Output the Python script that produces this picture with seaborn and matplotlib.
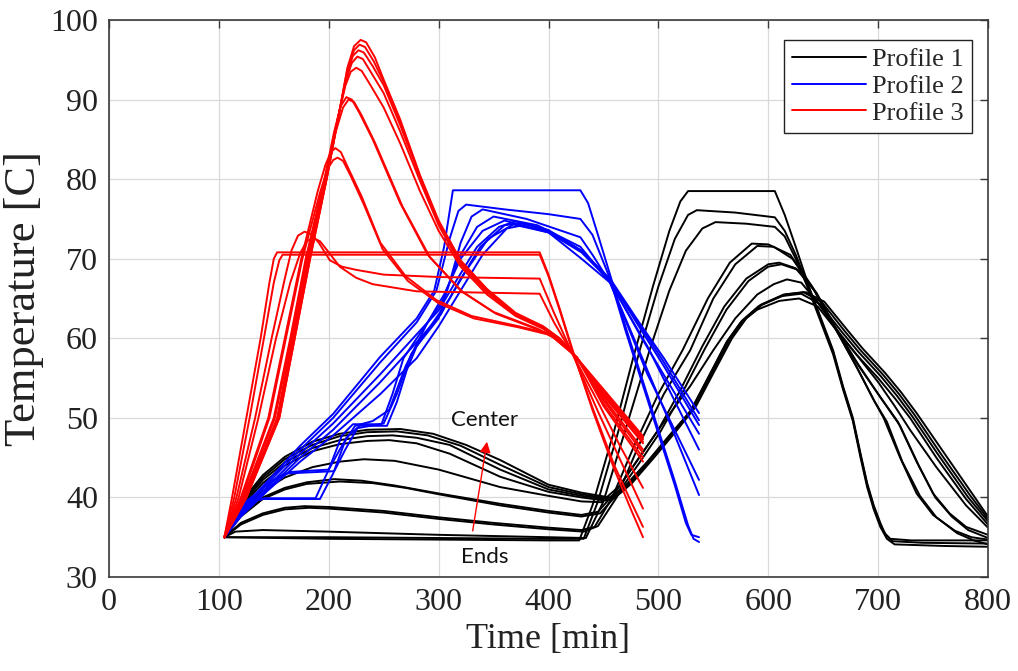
import pandas as pd
import matplotlib
matplotlib.use("Agg")
import matplotlib.pyplot as plt
import seaborn as sns

# ---- Profile 1 (black): 12 curves, ends -> center  [time min, temp C] ----
p1_c0 = [(105, 35.0), (200, 34.8), (300, 34.7), (400, 34.6), (428, 34.6), (440, 39.0), (460, 48.5), (477, 57.5),
         (495, 66.5), (510, 73.5), (520, 77.2), (527, 78.5), (606, 78.5), (615, 75.5), (625, 71.5), (637, 66.5),
         (648, 62.5), (659, 58.5), (668, 54.0), (677, 50.0), (684, 45.5), (690, 41.8), (696, 39.0), (702, 36.8),
         (706, 35.5), (711, 34.8), (730, 34.6), (800, 34.6)]
p1_c1 = [(105, 35.0), (200, 35.0), (300, 34.9), (400, 34.8), (432, 34.8), (445, 39.5), (465, 49.0), (483, 58.5),
         (500, 66.5), (515, 72.5), (527, 75.5), (535, 76.1), (570, 75.8), (606, 75.2), (615, 73.5), (625, 70.5),
         (637, 66.3), (648, 62.3), (659, 58.3), (668, 53.8), (677, 49.8), (684, 45.3), (690, 41.6), (696, 38.8),
         (702, 36.6), (707, 35.3), (713, 34.5), (740, 34.3), (800, 34.2)]
p1_c2 = [(105, 35.0), (115, 35.7), (140, 35.9), (200, 35.7), (300, 35.3), (400, 35.0), (434, 34.9), (450, 39.5),
         (470, 48.5), (492, 58.5), (510, 66.0), (525, 71.0), (540, 73.8), (552, 74.6), (580, 74.4), (606, 74.0),
         (615, 72.8), (625, 70.0), (637, 66.0), (648, 62.0), (659, 58.0), (668, 53.6), (677, 49.6), (684, 45.0),
         (690, 41.3), (696, 38.5), (702, 36.3), (708, 34.8), (715, 34.1), (760, 33.9), (800, 33.8)]
p1_c3 = [(105, 35.0), (120, 36.8), (140, 38.0), (160, 38.7), (178, 38.9), (200, 38.8), (250, 38.3), (300, 37.5),
         (350, 36.8), (400, 36.2), (430, 35.9), (442, 36.3), (458, 40.0), (478, 46.5), (500, 53.0), (522, 58.5),
         (545, 65.0), (565, 69.5), (585, 71.9), (600, 71.8), (620, 70.5), (640, 66.5), (660, 61.5), (680, 56.5),
         (695, 52.5), (705, 50.0), (720, 45.0), (735, 40.5), (750, 37.8), (770, 35.8), (785, 35.0), (800, 34.7)]
p1_c4 = [(105, 35.0), (120, 36.6), (140, 37.8), (160, 38.5), (182, 38.7), (200, 38.6), (250, 38.1), (300, 37.3),
         (350, 36.6), (400, 36.0), (432, 35.7), (445, 36.4), (462, 40.0), (482, 46.5), (505, 53.0), (529, 58.5),
         (550, 65.0), (570, 69.3), (590, 71.6), (605, 71.5), (622, 70.0), (642, 66.0), (662, 61.0), (682, 56.0),
         (697, 52.0), (708, 49.5), (722, 44.5), (738, 40.2), (753, 37.5), (772, 35.5), (787, 34.6), (800, 34.1)]
p1_c5 = [(105, 35.0), (120, 37.8), (140, 40.0), (160, 41.2), (180, 41.9), (205, 42.3), (230, 42.1), (260, 41.5),
         (300, 40.5), (356, 39.2), (400, 38.3), (430, 37.8), (445, 38.2), (460, 40.5), (480, 44.5), (500, 48.5),
         (520, 53.5), (540, 59.0), (560, 64.0), (580, 67.5), (600, 69.3), (610, 69.5), (625, 68.8), (642, 66.0),
         (660, 61.5), (680, 57.0), (700, 53.0), (718, 49.5), (735, 44.5), (750, 40.5), (765, 38.0), (780, 36.3),
         (800, 35.3)]
p1_c6 = [(105, 35.0), (120, 37.6), (140, 39.8), (160, 41.0), (180, 41.7), (210, 42.0), (240, 41.8), (270, 41.2),
         (300, 40.4), (356, 39.0), (400, 38.1), (430, 37.6), (447, 38.0), (462, 40.3), (482, 44.2), (502, 48.3),
         (522, 53.2), (542, 58.6), (562, 63.6), (582, 67.2), (600, 69.0), (612, 69.3), (627, 68.6), (644, 65.7),
         (662, 61.2), (682, 56.7), (702, 52.6), (720, 49.0), (737, 44.0), (752, 40.0), (767, 37.6), (782, 35.9),
         (800, 34.9)]
p1_c7 = [(105, 35.0), (120, 38.3), (140, 40.8), (160, 42.5), (185, 43.8), (210, 44.5), (232, 44.8), (260, 44.6),
         (300, 43.5), (356, 41.3), (400, 40.2), (430, 39.5), (448, 39.4), (465, 41.5), (485, 45.5), (505, 49.5),
         (529, 54.0), (550, 58.5), (570, 62.5), (590, 65.5), (605, 66.8), (617, 67.4), (630, 67.0), (645, 64.5),
         (660, 61.5), (680, 58.0), (700, 54.5), (715, 51.5), (729, 48.5), (753, 43.8), (780, 39.0), (800, 36.2)]
p1_c8 = [(105, 35.0), (120, 38.8), (140, 41.8), (160, 44.0), (185, 45.8), (210, 46.7), (235, 47.1), (255, 47.2),
         (280, 46.8), (310, 45.5), (356, 42.6), (400, 40.7), (430, 40.0), (452, 39.6), (470, 41.5), (490, 44.5),
         (510, 47.8), (529, 50.8), (545, 55.0), (562, 59.5), (575, 62.0), (590, 63.6), (610, 64.7), (628, 65.0),
         (645, 64.0), (665, 60.5), (680, 58.0), (700, 55.0), (715, 52.5), (729, 50.0), (753, 45.0), (780, 39.8),
         (800, 36.6)]
p1_c9 = [(105, 35.0), (120, 39.0), (140, 42.2), (160, 44.4), (185, 46.2), (210, 47.2), (235, 47.7), (258, 47.8),
         (280, 47.5), (310, 46.6), (356, 43.5), (400, 41.0), (430, 40.2), (455, 39.7), (472, 41.6), (492, 44.7),
         (512, 48.0), (530, 51.0), (546, 55.2), (563, 59.7), (576, 62.2), (591, 64.0), (612, 65.3), (630, 65.6),
         (647, 64.3), (667, 60.8), (682, 58.3), (702, 55.3), (717, 52.8), (731, 50.2), (755, 45.3), (782, 40.0),
         (800, 37.0)]
p1_c10 = [(105, 35.0), (120, 39.2), (140, 42.5), (160, 44.8), (185, 46.6), (210, 47.7), (235, 48.2), (262, 48.3),
          (290, 47.8), (320, 46.5), (356, 44.1), (400, 41.3), (430, 40.4), (457, 39.8), (474, 41.7), (494, 44.9),
          (514, 48.2), (532, 51.2), (548, 55.4), (565, 59.9), (578, 62.4), (593, 64.2), (614, 65.5), (632, 65.8),
          (649, 64.5), (669, 61.0), (684, 58.5), (704, 55.5), (719, 53.0), (733, 50.4), (757, 45.5), (784, 40.2),
          (800, 37.3)]
p1_c11 = [(105, 35.0), (120, 39.4), (140, 42.8), (160, 45.1), (185, 47.0), (210, 48.0), (235, 48.5), (265, 48.6),
          (295, 48.0), (325, 46.6), (356, 44.7), (400, 41.6), (430, 40.6), (460, 39.9), (476, 41.8), (496, 45.0),
          (516, 48.3), (534, 51.4), (550, 55.6), (567, 60.0), (580, 62.5), (595, 64.3), (616, 65.5), (634, 65.8),
          (651, 64.6), (671, 61.2), (686, 58.7), (706, 55.7), (721, 53.2), (735, 50.6), (759, 45.8), (786, 40.4),
          (800, 37.6)]

# ---- Profile 2 (blue) ----
p2_c0 = [(105, 35.0), (120, 38.5), (144, 42.0), (174, 46.5), (204, 50.5), (247, 57.7), (280, 62.5), (296, 66.0),
         (305, 71.5), (313, 78.6), (429, 78.6), (436, 77.0), (445, 73.0), (456, 68.0), (470, 61.5), (485, 55.0),
         (500, 48.5), (515, 42.0), (527, 36.5), (532, 34.8), (537, 34.4)]
p2_c1 = [(105, 35.0), (120, 38.3), (144, 41.7), (174, 46.0), (204, 50.0), (247, 57.0), (280, 62.0), (298, 66.0),
         (310, 72.5), (318, 76.0), (325, 76.8), (360, 76.2), (400, 75.6), (429, 75.0), (440, 73.0), (456, 67.5),
         (470, 61.0), (485, 54.5), (500, 48.0), (515, 41.5), (525, 36.8), (530, 35.3), (537, 35.0)]
p2_c2 = [(105, 35.0), (115, 38.0), (130, 39.5), (140, 39.8), (192, 39.8), (204, 43.0), (216, 47.5), (228, 49.0),
         (253, 49.0), (262, 52.0), (271, 56.0), (280, 59.0), (300, 62.5), (310, 67.0), (320, 72.0), (330, 75.3),
         (340, 76.2), (380, 75.0), (429, 72.7), (440, 70.5), (456, 67.0), (470, 62.5), (490, 56.0), (510, 49.5),
         (537, 40.3)]
p2_c3 = [(105, 35.0), (116, 38.0), (132, 39.6), (142, 39.9), (188, 39.9), (200, 43.5), (212, 47.8), (222, 49.2),
         (248, 49.2), (258, 53.0), (268, 57.5), (285, 61.0), (303, 64.5), (318, 70.0), (335, 74.0), (350, 75.3),
         (390, 74.2), (429, 71.5), (456, 67.0), (490, 55.5), (537, 42.2)]
p2_c4 = [(105, 35.0), (125, 39.5), (150, 42.2), (165, 43.2), (200, 43.5), (212, 46.5), (224, 49.0), (240, 49.6),
         (255, 51.0), (270, 56.5), (290, 62.0), (305, 65.5), (320, 70.0), (340, 73.5), (360, 74.8), (400, 73.3),
         (430, 70.0), (456, 67.0), (490, 59.0), (537, 46.0)]
p2_c5 = [(105, 35.0), (120, 38.0), (144, 41.3), (174, 45.5), (204, 49.3), (247, 55.5), (280, 60.5), (300, 63.5),
         (315, 67.0), (335, 71.5), (355, 74.0), (370, 74.7), (400, 73.6), (430, 71.0), (456, 67.3), (480, 62.0),
         (505, 56.5), (537, 49.1)]
p2_c6 = [(105, 35.0), (120, 37.8), (144, 41.0), (174, 45.0), (204, 48.5), (247, 54.5), (280, 59.5), (302, 63.0),
         (318, 67.0), (338, 71.5), (360, 74.2), (375, 74.5), (400, 73.5), (430, 71.0), (456, 67.3), (480, 62.3),
         (505, 57.0), (537, 49.7)]
p2_c7 = [(105, 35.0), (120, 37.6), (144, 40.8), (174, 44.5), (204, 47.8), (247, 53.0), (280, 57.5), (300, 61.5),
         (320, 66.0), (340, 70.5), (362, 73.8), (380, 74.3), (400, 73.5), (430, 71.0), (456, 67.5), (480, 62.5),
         (505, 57.5), (537, 50.6)]
p2_c8 = [(105, 35.0), (122, 39.0), (145, 41.8), (160, 43.0), (205, 43.3), (215, 46.0), (226, 48.7), (250, 49.3),
         (262, 53.0), (275, 58.0), (295, 62.0), (310, 65.0), (325, 68.5), (345, 72.5), (368, 74.3), (400, 73.3),
         (430, 70.8), (456, 67.2), (485, 60.0), (537, 48.0)]

# ---- Profile 3 (red) ----
p3_c0 = [(105, 35.0), (112, 40.0), (125, 50.0), (138, 60.0), (146, 67.0), (150, 70.0), (153, 70.8), (392, 70.8),
         (400, 68.0), (410, 63.8), (422, 58.5), (440, 51.0), (460, 43.5), (475, 38.5), (486, 35.0)]
p3_c1 = [(105, 35.0), (114, 40.0), (128, 50.0), (141, 60.0), (150, 67.0), (155, 69.8), (158, 70.5), (392, 70.5),
         (400, 67.8), (410, 63.6), (422, 58.3), (440, 51.3), (460, 44.0), (475, 39.5), (486, 36.3)]
p3_c2 = [(105, 35.0), (116, 40.0), (133, 50.0), (148, 60.0), (160, 67.5), (166, 71.0), (172, 72.9), (178, 73.4),
         (184, 73.1), (191, 72.0), (201, 69.8), (212, 69.0), (225, 68.6), (250, 68.0), (300, 67.7), (392, 67.5),
         (405, 63.2), (422, 58.0), (445, 50.8), (465, 44.8), (486, 38.6)]
p3_c3 = [(105, 35.0), (118, 40.0), (136, 50.0), (152, 60.0), (165, 67.0), (174, 70.7), (180, 72.2), (186, 72.6),
         (192, 72.2), (200, 70.8), (210, 69.0), (225, 67.6), (240, 66.8), (280, 65.9), (392, 65.6), (405, 62.0),
         (422, 58.0), (445, 52.0), (465, 46.5), (486, 41.2)]
p3_c4 = [(105, 35.0), (120, 40.0), (145, 50.0), (160, 60.0), (175, 70.0), (190, 78.5), (197, 81.8), (202, 83.4),
         (206, 83.9), (211, 83.4), (218, 81.3), (230, 77.8), (247, 72.0), (270, 67.8), (298, 64.8), (330, 62.8),
         (370, 61.6), (400, 60.6), (426, 57.6), (450, 51.5), (486, 44.5)]
p3_c5 = [(105, 35.0), (121, 40.0), (146, 50.0), (161, 60.0), (176, 70.0), (192, 78.3), (199, 81.3), (204, 82.4),
         (208, 82.7), (213, 82.3), (220, 80.4), (232, 76.8), (249, 71.2), (272, 67.2), (300, 64.4), (332, 62.5),
         (372, 61.4), (402, 60.4), (426, 57.6), (450, 51.8), (486, 45.0)]
p3_c6 = [(105, 35.0), (122, 40.0), (150, 50.0), (165, 60.0), (179, 70.0), (196, 80.0), (205, 86.0), (211, 89.2),
         (216, 90.3), (221, 90.0), (228, 88.3), (240, 85.0), (265, 77.0), (290, 70.5), (320, 66.0), (350, 63.3),
         (390, 61.2), (410, 59.8), (426, 57.5), (450, 52.5), (486, 46.0)]
p3_c7 = [(105, 35.0), (123, 40.0), (151, 50.0), (166, 60.0), (180, 70.0), (197, 80.0), (206, 85.8), (213, 89.0),
         (218, 90.0), (223, 89.7), (230, 88.0), (242, 84.6), (267, 76.6), (292, 70.2), (322, 65.8), (352, 63.1),
         (392, 61.0), (410, 59.7), (426, 57.5), (450, 52.2), (486, 45.6)]
p3_c8 = [(105, 35.0), (124, 40.0), (153, 50.0), (167, 60.0), (181, 70.0), (197, 80.0), (208, 87.5), (215, 91.7),
         (220, 93.5), (225, 94.0), (230, 93.6), (238, 91.8), (250, 89.0), (265, 84.5), (283, 78.5), (300, 73.5),
         (320, 69.0), (344, 65.5), (370, 62.8), (395, 61.2), (410, 59.8), (426, 57.5), (450, 52.8), (486, 46.8)]
p3_c9 = [(105, 35.0), (124, 40.0), (154, 50.0), (168, 60.0), (182, 70.0), (197, 80.0), (208, 87.5), (216, 92.6),
         (221, 94.6), (226, 95.4), (231, 95.1), (239, 93.3), (250, 90.8), (265, 86.0), (283, 79.8), (300, 74.2),
         (320, 69.3), (344, 65.8), (370, 62.9), (395, 61.3), (410, 59.8), (426, 57.5), (450, 53.0), (486, 47.0)]
p3_c10 = [(105, 35.0), (125, 40.0), (154, 50.0), (168, 60.0), (182, 70.0), (198, 80.0), (209, 88.0), (217, 93.4),
          (222, 95.5), (227, 96.2), (232, 95.9), (240, 94.2), (250, 91.8), (265, 86.8), (283, 80.3), (300, 74.5),
          (320, 69.5), (344, 66.0), (370, 63.0), (395, 61.4), (410, 59.9), (426, 57.5), (450, 53.2), (486, 47.3)]
p3_c11 = [(105, 35.0), (125, 40.0), (155, 50.0), (169, 60.0), (183, 70.0), (198, 80.0), (209, 88.0), (217, 93.8),
          (223, 96.2), (228, 96.9), (233, 96.6), (241, 94.8), (250, 92.2), (265, 87.2), (283, 80.4), (300, 74.6),
          (320, 69.6), (344, 66.1), (370, 63.1), (395, 61.5), (410, 60.0), (426, 57.5), (450, 53.4), (486, 47.5)]
p3_c12 = [(105, 35.0), (125, 40.0), (155, 50.0), (169, 60.0), (183, 70.0), (198, 80.0), (209, 88.0), (217, 94.0),
          (223, 96.7), (229, 97.5), (234, 97.2), (242, 95.3), (250, 92.5), (265, 87.5), (283, 80.5), (300, 74.8),
          (320, 69.8), (344, 66.2), (370, 63.2), (395, 61.5), (410, 60.0), (426, 57.5), (450, 53.6), (486, 47.7)]

profiles = {
    "Profile 1": [p1_c0, p1_c1, p1_c2, p1_c3, p1_c4, p1_c5, p1_c6, p1_c7, p1_c8, p1_c9, p1_c10, p1_c11],
    "Profile 2": [p2_c0, p2_c1, p2_c2, p2_c3, p2_c4, p2_c5, p2_c6, p2_c7, p2_c8],
    "Profile 3": [p3_c0, p3_c1, p3_c2, p3_c3, p3_c4, p3_c5, p3_c6, p3_c7, p3_c8, p3_c9, p3_c10, p3_c11, p3_c12],
}
colors = {"Profile 1": "black", "Profile 2": "blue", "Profile 3": "red"}

rows = []
for name, curves in profiles.items():
    for i, pts in enumerate(curves):
        for t, y in pts:
            rows.append({"Time": t, "Temp": y, "Profile": name, "Curve": f"{name}-{i}"})
df = pd.DataFrame(rows)

sns.set_style("whitegrid")
plt.rcParams["font.family"] = ["Liberation Serif", "DejaVu Serif"]

fig, ax = plt.subplots(figsize=(10.18, 6.71), dpi=100)
fig.subplots_adjust(left=109 / 1018, right=988 / 1018, top=1 - 20 / 671, bottom=1 - 577 / 671)

sns.lineplot(data=df, x="Time", y="Temp", hue="Profile", units="Curve", estimator=None,
             sort=False, palette=colors, linewidth=1.4, ax=ax)

ax.set_xlim(0, 800)
ax.set_ylim(30, 100)
ax.set_xticks(range(0, 801, 100))
ax.set_yticks(range(30, 101, 10))
ax.grid(True, color="#d9d9d9", linewidth=0.9)
for s in ax.spines.values():
    s.set_color("#3a3a3a")
    s.set_linewidth(1.2)
ax.tick_params(direction="in", length=6, width=1, top=True, right=True,
               colors="#3a3a3a", labelcolor="#222222", labelsize=23, pad=8)
ax.set_xlabel("Time [min]", fontsize=26, color="#222222", labelpad=4)
ax.set_ylabel("Temperature [C]", fontsize=32, color="#222222", labelpad=4)

# annotation
ax.annotate("", xy=(344, 47.0), xytext=(331, 35.8),
            arrowprops=dict(arrowstyle="-|>", color="red", lw=1.0, mutation_scale=16,
                            shrinkA=0, shrinkB=0))
ax.text(342, 49.7, "Center", family="Lato", fontsize=16, ha="center", va="center", color="#111111")
ax.text(342, 32.5, "Ends", family="Lato", fontsize=16, ha="center", va="center", color="#111111")

handles, labels = ax.get_legend_handles_labels()
leg = ax.legend(handles, labels, loc="upper right", bbox_to_anchor=(1 - 16 / 879, 1 - 20 / 557),
                borderaxespad=0, fontsize=19, handlelength=2.8, handletextpad=0.25,
                labelspacing=0.12, borderpad=0.3, fancybox=False, framealpha=1)
leg.get_frame().set_edgecolor("#222222")
leg.get_frame().set_linewidth(1.0)
for h in leg.get_lines():
    h.set_linewidth(1.4)

fig.savefig("out.png", dpi=100)
